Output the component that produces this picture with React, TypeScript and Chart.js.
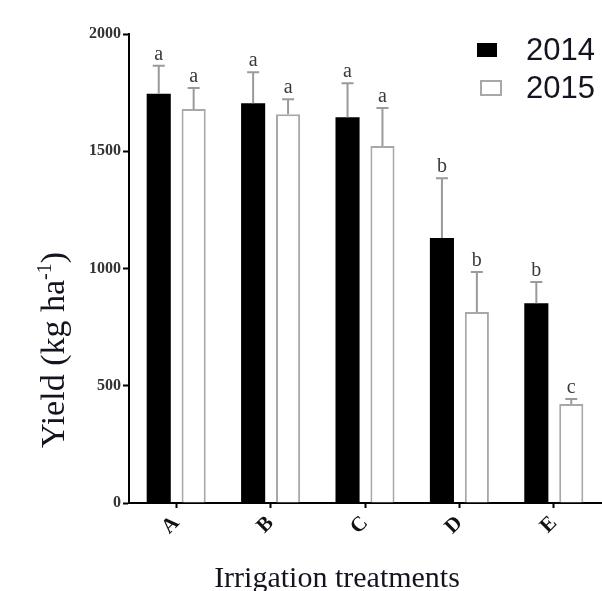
import React, { useEffect, useRef } from 'react';
import { Chart, registerables } from 'chart.js';

Chart.register(...registerables);

const categories = ['A', 'B', 'C', 'D', 'E'];
const seriesNames = ['2014', '2015'];
const yield2014 = [1745, 1705, 1645, 1130, 852];
const yield2015 = [1680, 1658, 1522, 815, 422];
const err2014 = [120, 132, 145, 255, 90];
const err2015 = [90, 64, 162, 170, 21];
const letters2014 = ['a', 'a', 'a', 'b', 'b'];
const letters2015 = ['a', 'a', 'a', 'b', 'c'];
const yMin = 0;
const yMax = 2000;
const yStep = 500;
const yTitleMain = 'Yield (kg ha';
const yTitleSup = '-1';
const yTitleEnd = ')';
const xTitle = 'Irrigation treatments';

const errors = [err2014, err2015];
const letters = [letters2014, letters2015];

const overlayPlugin = {
  id: 'overlay',
  afterDatasetsDraw(chart: any) {
    const ctx = chart.ctx;
    const yScale = chart.scales.y;
    chart.data.datasets.forEach((ds: any, di: number) => {
      const meta = chart.getDatasetMeta(di);
      meta.data.forEach((bar: any, i: number) => {
        const v = ds.data[i];
        const top = yScale.getPixelForValue(v + errors[di][i]);
        const x = bar.x;
        ctx.save();
        ctx.strokeStyle = '#9a9a9a';
        ctx.lineWidth = 2;
        ctx.beginPath();
        ctx.moveTo(x, bar.y);
        ctx.lineTo(x, top);
        ctx.moveTo(x - 6, top);
        ctx.lineTo(x + 6, top);
        ctx.stroke();
        ctx.fillStyle = '#3a3a3a';
        ctx.font = '20px "Liberation Serif", "Times New Roman", serif';
        ctx.textAlign = 'center';
        ctx.textBaseline = 'alphabetic';
        ctx.fillText(letters[di][i], x, top - 6);
        ctx.restore();
      });
    });
  },
  afterDraw(chart: any) {
    const ctx = chart.ctx;
    ctx.save();
    // Y title
    ctx.fillStyle = '#141420';
    const mainFont = '34px "Liberation Serif", "Times New Roman", serif';
    const supFont = '20px "Liberation Serif", "Times New Roman", serif';
    ctx.font = mainFont;
    const w1 = ctx.measureText(yTitleMain).width;
    const w3 = ctx.measureText(yTitleEnd).width;
    ctx.font = supFont;
    const w2 = ctx.measureText(yTitleSup).width;
    const total = w1 + w2 + w3;
    ctx.translate(64, 350);
    ctx.rotate(-Math.PI / 2);
    ctx.textAlign = 'left';
    ctx.textBaseline = 'alphabetic';
    let px = -total / 2;
    ctx.font = mainFont;
    ctx.fillText(yTitleMain, px, 0);
    px += w1;
    ctx.font = supFont;
    ctx.fillText(yTitleSup, px, -13);
    px += w2;
    ctx.font = mainFont;
    ctx.fillText(yTitleEnd, px, 0);
    ctx.restore();

    // X title
    ctx.save();
    ctx.fillStyle = '#141420';
    ctx.font = '30px "Liberation Serif", "Times New Roman", serif';
    ctx.textAlign = 'center';
    ctx.textBaseline = 'alphabetic';
    ctx.fillText(xTitle, 337, 587);
    ctx.restore();

    // Legend
    ctx.save();
    ctx.fillStyle = '#ffffff';
    ctx.fillRect(520, 24, 82, 92);
    const ds = chart.data.datasets;
    ctx.fillStyle = ds[0].backgroundColor;
    ctx.fillRect(477, 43, 20, 14);
    ctx.fillStyle = ds[1].backgroundColor;
    ctx.fillRect(481, 81, 20, 14);
    ctx.strokeStyle = ds[1].borderColor;
    ctx.lineWidth = 2;
    ctx.strokeRect(481, 81, 20, 14);
    ctx.fillStyle = '#141420';
    ctx.font = '31px "Liberation Sans", Arial, sans-serif';
    ctx.textAlign = 'left';
    ctx.textBaseline = 'middle';
    ctx.fillText(ds[0].label, 526, 51);
    ctx.fillText(ds[1].label, 526, 89);
    ctx.restore();
  },
};

export default function App() {
  const ref = useRef<HTMLCanvasElement | null>(null);
  useEffect(() => {
    if (!ref.current) return;
    const chart = new Chart(ref.current, {
      type: 'bar',
      data: {
        labels: categories,
        datasets: [
          {
            label: seriesNames[0],
            data: yield2014,
            backgroundColor: '#000000',
            borderWidth: 0,
            categoryPercentage: 0.74,
            barPercentage: 0.69,
          },
          {
            label: seriesNames[1],
            data: yield2015,
            backgroundColor: '#ffffff',
            borderColor: '#a8a8a8',
            borderWidth: 2,
            categoryPercentage: 0.74,
            barPercentage: 0.69,
          },
        ],
      },
      options: {
        responsive: false,
        animation: false,
        layout: { padding: { top: 34, right: 1, left: 0, bottom: 0 } },
        plugins: { legend: { display: false }, tooltip: { enabled: false } },
        scales: {
          x: {
            offset: true,
            grid: {
              offset: false,
              drawOnChartArea: false,
              tickLength: 5,
              color: '#000',
              tickWidth: 2,
            },
            border: { color: '#000', width: 2 },
            ticks: {
              minRotation: 45,
              maxRotation: 45,
              color: '#111',
              padding: 3,
              font: { family: '"Liberation Serif", "Times New Roman", serif', size: 21, weight: 'bold' },
            },
            afterFit: (s: any) => {
              s.height = 88;
            },
          },
          y: {
            min: yMin,
            max: yMax,
            grid: {
              drawOnChartArea: false,
              tickLength: 6,
              color: '#000',
              tickWidth: 2,
            },
            border: { color: '#000', width: 2 },
            ticks: {
              stepSize: yStep,
              color: '#333',
              padding: 2,
              callback: (v: any) => String(v),
              font: { family: '"Liberation Serif", "Times New Roman", serif', size: 16, weight: 'bold' },
            },
            afterFit: (s: any) => {
              s.width = 129;
            },
          },
        },
      },
      plugins: [overlayPlugin],
    } as any);
    return () => chart.destroy();
  }, []);
  return (
    <div style={{ position: 'absolute', left: 0, top: 0, width: 602, height: 591, background: '#fff' }}>
      <canvas ref={ref} width={602} height={591} />
    </div>
  );
}
